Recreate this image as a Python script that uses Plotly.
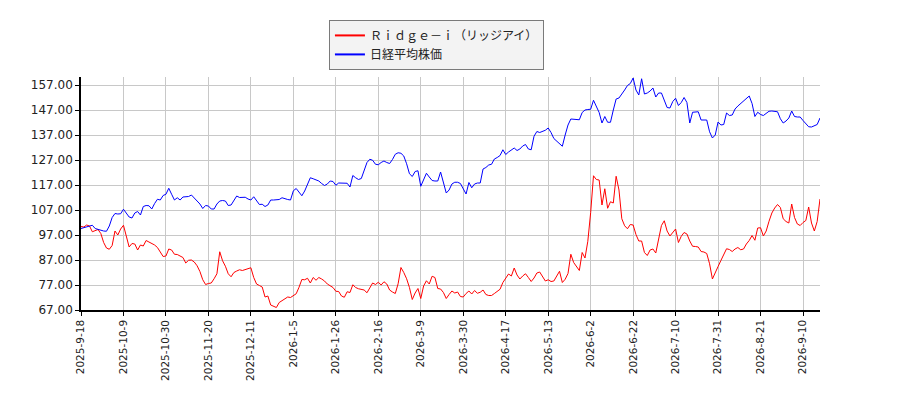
import plotly.graph_objects as go

# 取引日ごとの値（左端=100 に正規化）
ridge_i = [
    100.4, 100.2, 101.0, 100.6, 98.3, 98.6, 99.2, 97.6, 94.0, 91.8, 91.3, 92.8, 98.6, 97.0, 99.4,
    100.9, 96.9, 92.2, 93.6, 93.4, 91.0, 93.0, 92.6, 94.8, 94.2, 93.6, 93.0, 92.0, 90.2, 88.4,
    88.6, 91.4, 91.0, 89.3, 89.2, 88.6, 88.0, 85.8, 86.9, 87.0, 86.2, 84.7, 82.4, 79.1, 77.2,
    77.6, 77.8, 79.5, 81.5, 90.3, 86.7, 84.5, 81.5, 80.3, 82.0, 82.6, 83.1, 82.8, 83.2, 83.6,
    83.9, 80.0, 77.4, 76.8, 76.2, 72.2, 72.6, 69.0, 68.4, 68.0, 70.0, 70.8, 71.4, 72.2, 72.0,
    72.6, 73.5, 76.1, 79.2, 79.1, 79.7, 77.8, 80.0, 78.9, 80.0, 79.4, 78.6, 77.4, 76.8, 76.0,
    74.5, 74.4, 72.6, 72.1, 74.3, 74.0, 77.1, 76.0, 75.5, 75.2, 75.0, 73.9, 76.0, 77.8, 77.2,
    78.1, 77.0, 78.3, 77.4, 75.0, 74.2, 73.6, 77.5, 84.0, 82.0, 79.5, 76.0, 71.2, 73.8, 75.6,
    71.6, 76.6, 78.7, 77.4, 80.5, 80.0, 75.6, 75.4, 74.0, 71.6, 73.2, 74.6, 73.8, 74.2, 72.4,
    72.2, 73.6, 74.6, 73.4, 74.8, 73.7, 74.1, 75.0, 73.2, 72.8, 72.8, 73.6, 74.6, 75.3, 78.0,
    80.0, 81.4, 80.6, 83.8, 81.0, 79.4, 80.6, 81.5, 80.0, 78.4, 79.8, 81.8, 82.2, 80.4, 78.6,
    79.1, 78.4, 78.6, 80.6, 82.5, 78.0, 79.3, 81.6, 89.3, 86.0, 84.4, 82.8, 90.0, 87.8, 94.5,
    106.0, 120.7, 119.2, 119.0, 109.0, 115.5, 107.7, 110.3, 109.8, 120.5, 115.0, 103.5, 100.7, 99.5, 101.2,
    101.0, 97.2, 94.6, 94.6, 90.0, 88.8, 91.0, 91.4, 89.8, 95.5, 100.8, 102.7, 98.6, 96.6, 97.8,
    99.4, 94.0, 96.5, 98.0, 97.4, 94.6, 92.5, 92.4, 92.2, 90.4, 90.2, 89.6, 85.5, 79.4, 81.6,
    84.4, 86.8, 89.0, 91.5, 91.2, 90.4, 91.4, 92.0, 91.1, 91.4, 93.4, 94.8, 96.8, 94.9, 99.8,
    99.9, 96.6, 98.6, 102.5, 105.8, 107.8, 109.2, 108.0, 103.5, 102.4, 101.8, 109.4, 104.0, 101.4, 100.8,
    102.0, 102.8, 108.2, 101.8, 98.6, 102.4, 111.4,
]

nikkei = [
    99.6, 99.9, 100.3, 100.6, 100.9, 99.6, 99.2, 98.8, 98.6, 98.5, 100.6, 104.0, 105.6, 105.4, 105.5,
    107.3, 105.9, 104.2, 103.8, 105.8, 106.4, 105.0, 108.4, 108.8, 108.7, 107.4, 109.6, 111.3, 111.0, 112.8,
    113.3, 115.7, 113.3, 111.0, 111.9, 111.0, 112.2, 112.3, 112.4, 113.0, 111.8, 111.0, 109.4, 107.6, 108.8,
    108.6, 107.4, 107.4, 109.4, 110.6, 110.8, 110.6, 108.8, 109.0, 111.0, 112.6, 112.0, 112.0, 112.1, 111.4,
    111.0, 112.3, 110.8, 109.2, 109.3, 108.4, 109.0, 111.0, 111.0, 111.0, 111.2, 111.9, 111.4, 111.2, 111.0,
    114.7, 115.6, 114.3, 112.7, 114.6, 117.6, 119.9, 119.5, 119.0, 118.6, 117.6, 116.8, 117.4, 118.6, 118.4,
    116.9, 117.8, 117.8, 117.8, 117.7, 116.2, 120.8, 119.9, 119.2, 119.6, 123.0, 126.0, 127.3, 126.9, 125.3,
    125.1, 126.0, 126.6, 126.0, 125.6, 127.2, 129.3, 129.9, 129.7, 128.6, 125.5, 121.5, 120.4, 122.4, 122.7,
    116.5, 119.5, 121.7, 120.2, 118.8, 118.6, 118.6, 122.2, 117.8, 113.8, 115.0, 117.4, 118.1, 118.1, 117.6,
    115.4, 113.4, 118.0, 115.9, 117.4, 117.8, 117.8, 123.4, 124.0, 125.0, 125.3, 127.4, 128.0, 128.8, 131.1,
    129.2, 130.2, 131.0, 131.8, 130.8, 131.4, 132.6, 133.2, 131.4, 131.1, 136.5, 138.4, 138.0, 138.4, 138.9,
    139.8, 138.0, 135.6, 134.6, 133.8, 132.5, 137.0, 141.0, 143.4, 143.4, 143.3, 143.1, 146.0, 147.0, 147.2,
    147.3, 150.9, 148.6, 146.0, 141.8, 144.4, 142.1, 142.1, 147.0, 151.4, 151.8, 153.2, 155.0, 156.8, 157.6,
    159.8, 155.0, 153.0, 159.5, 153.4, 153.8, 154.6, 155.8, 152.2, 153.8, 153.8, 151.0, 148.0, 147.8, 150.4,
    151.7, 148.8, 150.0, 152.0, 150.0, 141.8, 146.1, 146.2, 146.3, 143.0, 143.1, 143.0, 138.3, 135.8, 137.0,
    142.2, 141.0, 141.2, 145.8, 144.8, 145.0, 147.4, 148.6, 149.6, 151.0, 152.0, 152.6, 149.6, 144.4, 146.1,
    145.2, 144.8, 145.8, 146.5, 146.6, 146.6, 146.3, 143.5, 141.8, 142.6, 143.8, 146.6, 144.4, 144.2, 144.2,
    142.8, 141.6, 140.3, 140.2, 140.6, 141.2, 143.8,
]

# 横軸ラベル（15営業日ごと）
tick_labels = [
    "2025-9-18", "2025-10-9", "2025-10-30", "2025-11-20", "2025-12-11",
    "2026-1-5", "2026-1-26", "2026-2-16", "2026-3-9", "2026-3-30",
    "2026-4-17", "2026-5-13", "2026-6-2", "2026-6-22", "2026-7-10",
    "2026-7-31", "2026-8-21", "2026-9-10",
]
y_ticks = [67, 77, 87, 97, 107, 117, 127, 137, 147, 157]

series = [
    ("Ｒｉｄｇｅ－ｉ（リッジアイ）", ridge_i, "#ff0000"),
    ("日経平均株価", nikkei, "#0000ff"),
]

days = list(range(len(ridge_i)))

fig = go.Figure()
for name, vals, color in series:
    fig.add_trace(go.Scatter(x=days, y=vals, mode="lines", name=name,
                             line=dict(color=color, width=1), showlegend=False))
# 凡例用（線を太めに見せる）
for name, vals, color in series:
    fig.add_trace(go.Scatter(x=[None], y=[None], mode="lines", name=name,
                             line=dict(color=color, width=2)))

# ページの余白(8px)ぶんを差し引いたマージン
fig.update_layout(
    width=900, height=400,
    margin=dict(l=73, r=88, t=62, b=98),
    paper_bgcolor="white", plot_bgcolor="white",
    font=dict(family="DejaVu Sans", size=11, color="#222222"),
    showlegend=True,
    legend=dict(
        x=0.3355, y=1.245, xanchor="left", yanchor="top",
        bgcolor="#f3f3f3", bordercolor="#7a7a7a", borderwidth=1,
        font=dict(family="Noto Sans CJK JP", size=12, color="#222222"),
        tracegroupgap=0, itemwidth=30,
    ),
)

fig.update_xaxes(
    range=[0, len(days) - 1],
    tickmode="array",
    tickvals=list(range(0, len(days), 15)),
    ticktext=tick_labels,
    tickangle=-90,
    ticks="outside", ticklen=4, tickcolor="black",
    showgrid=True, gridcolor="#c8c8c8", gridwidth=1,
    showline=True, linecolor="black", linewidth=1.5,
    zeroline=False,
    tickfont=dict(family="DejaVu Sans", size=10.5, color="#222222"),
)
fig.update_yaxes(
    range=[67, 160.2],
    tickmode="array",
    tickvals=y_ticks,
    tickformat=".2f",
    ticks="outside", ticklen=4, tickcolor="black",
    showgrid=True, gridcolor="#c8c8c8", gridwidth=1,
    showline=True, linecolor="black", linewidth=1.5,
    zeroline=False,
    tickfont=dict(family="DejaVu Sans", size=12, color="#222222"),
)

fig.write_html("out.html")
